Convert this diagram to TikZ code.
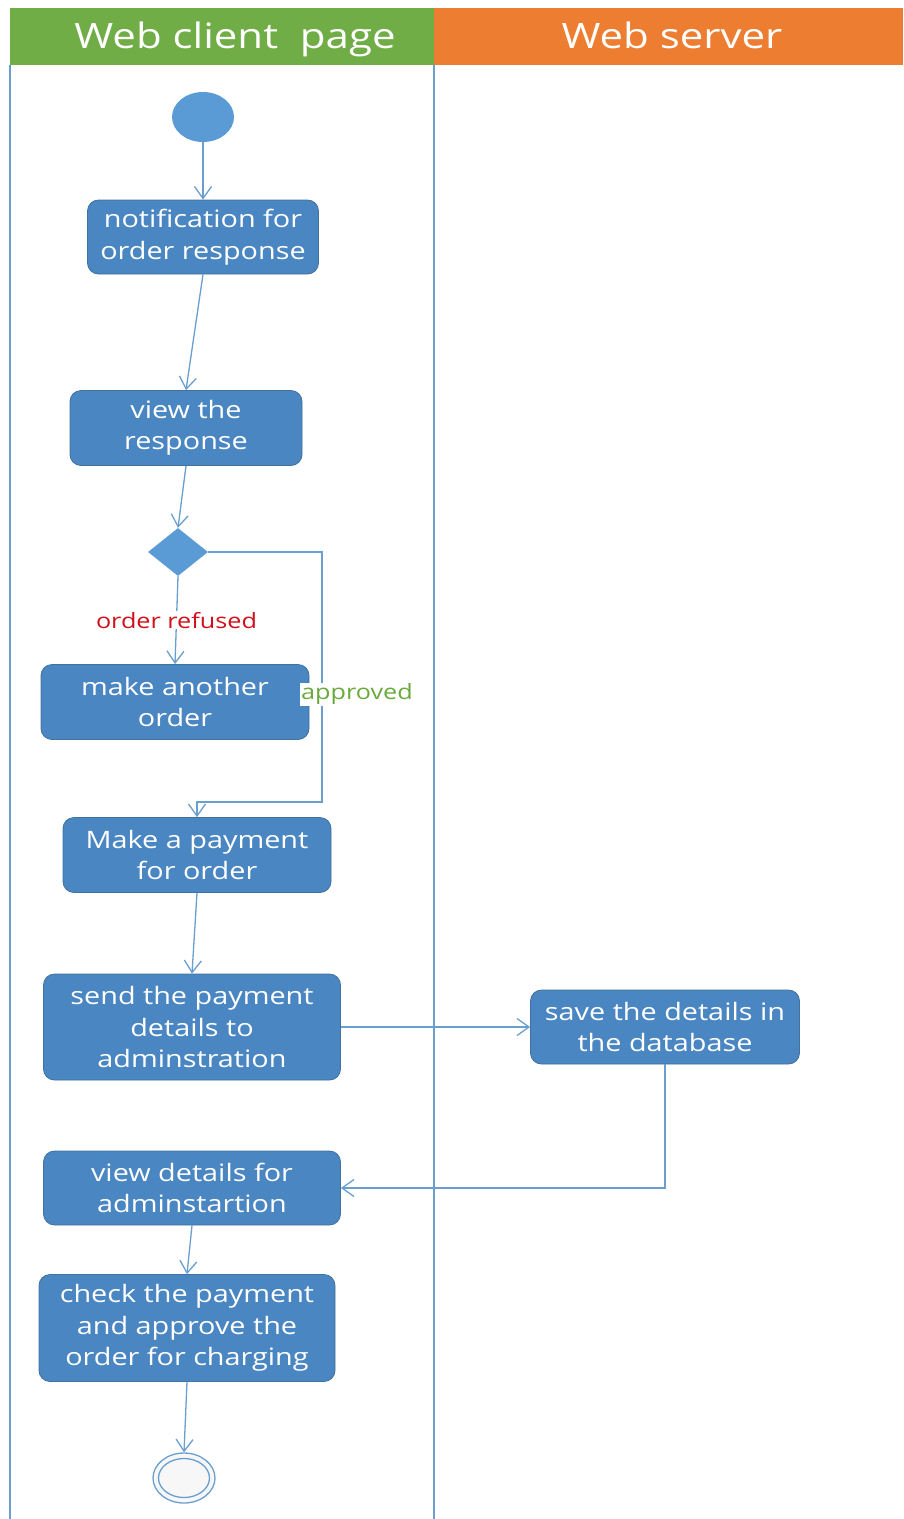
\documentclass[tikz,border=0pt]{standalone}
\usepackage{fontspec}
\setmainfont[FakeStretch=1.2]{Open Sans}
\usepackage{xcolor}
\usepackage{tikz}
\usetikzlibrary{arrows.meta,shapes.geometric,positioning}
\definecolor{lanegreen}{HTML}{70AD47}
\definecolor{laneorange}{HTML}{ED7D31}
\definecolor{actblue}{HTML}{4A86C1}
\definecolor{actedge}{HTML}{41719C}
\definecolor{dotblue}{HTML}{5B9BD5}
\definecolor{flowblue}{HTML}{6A9ECF}
\definecolor{refusedred}{HTML}{D0101A}
\definecolor{approvedgreen}{HTML}{6AAA3C}
\tikzset{act/.style={rectangle,rounded corners=11pt,fill=actblue,draw=actedge,line width=0.8pt,
           text=white,align=center,inner sep=0pt,font=\fontsize{24}{31.5}\selectfont},
         flow/.style={-{Straight Barb[length=12pt,width=17pt]},draw=flowblue,line width=1.3pt},
         lane/.style={draw=flowblue,line width=1.3pt},
         lbl/.style={fill=white,inner sep=1pt,font=\fontsize{21}{25}\selectfont}}

\begin{document}
\begin{tikzpicture}[x=1pt,y=-1pt,
  hdr/.style={text=white,anchor=base,font=\fontsize{35}{40}\selectfont}]
\useasboundingbox (0,0) rectangle (903,1519);
% swim lanes
\fill[lanegreen] (10,8) rectangle (434,65);
\fill[laneorange] (434,8) rectangle (903,65);
\node[hdr] (clienthdr) at (235,48) {Web client~ page};
\node[hdr] (serverhdr) at (672,48) {Web server};
\draw[lane] (10,65) -- (10,1519);
\draw[lane] (434,65) -- (434,1519);
% activities
\node[ellipse,fill=dotblue,minimum width=62pt,minimum height=50pt] (init) at (203,117) {};
\node[act,minimum width=231pt,minimum height=74pt] (notify) at (203,237) {notification for\\order response};
\node[act,minimum width=232pt,minimum height=75pt] (view) at (186,428) {view the\\response};
\node[diamond,fill=dotblue,minimum width=60pt,minimum height=48pt,inner sep=0pt] (dec) at (178,552) {};
\node[act,minimum width=268pt,minimum height=75pt] (another) at (175,702) {make another\\order};
\node[act,minimum width=268pt,minimum height=75pt] (pay) at (197,855) {Make a payment\\for order};
\node[act,minimum width=297pt,minimum height=106pt] (send) at (192,1027) {send the payment\\details to\\adminstration};
\node[act,minimum width=269pt,minimum height=74pt] (save) at (665,1027) {save the details in\\the database};
\node[act,minimum width=297pt,minimum height=74pt] (viewdet) at (192,1188) {view details for\\adminstartion};
\node[act,minimum width=296pt,minimum height=107pt] (check) at (187,1328) {check the payment\\and approve the\\order for charging};
\node[ellipse,draw=flowblue,line width=1.3pt,fill=gray!6,minimum width=62pt,minimum height=50pt] (final) at (184,1478) {};
\node[ellipse,draw=flowblue,line width=1.3pt,minimum width=51pt,minimum height=39pt] (finalin) at (final) {};
% control flow
\draw[flow] (init) -- (notify.north);
\draw[flow] (notify.south) -- (view.north);
\draw[flow] (view.south) -- (dec.north);
\draw[flow] (dec.south) -- node[lbl,text=refusedred] (refused) {order refused} (another.north);
\coordinate (apprturn) at (322,802);
\draw[flow] (dec.east) -| (apprturn) -- (apprturn -| pay.north) -- (pay.north);
\node[lbl,text=approvedgreen] (apprlbl) at (357,694) {approved};
\draw[flow] (pay.south) -- (send.north);
\draw[flow] (send.east) -- (save.west);
\draw[flow] (save.south) |- (viewdet.east);
\draw[flow] (viewdet.south) -- (check.north);
\draw[flow] (check.south) -- (final.north);
\end{tikzpicture}
\end{document}
